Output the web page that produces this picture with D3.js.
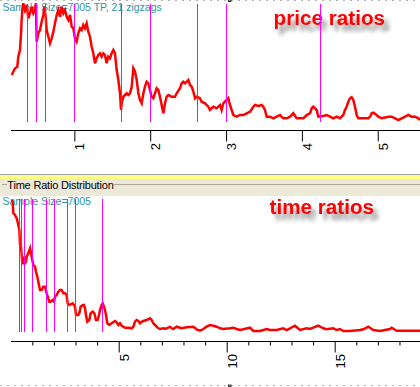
<!DOCTYPE html>
<html><head><meta charset="utf-8">
<script src="https://cdn.jsdelivr.net/npm/d3@7"></script>
<style>html,body{margin:0;padding:0;background:#fff;overflow:hidden}</style>
</head><body>
<svg id="c" width="420" height="387"></svg>
<script>
// ---- data ----
const priceX = [
0.174,0.218,0.248,0.261,0.283,0.297,0.305,0.314,0.327,0.349,
0.371,0.393,0.415,0.437,0.459,0.481,0.494,0.503,0.525,0.547,
0.569,0.591,0.604,0.622,0.635,0.657,0.679,0.701,0.723,0.745,
0.767,0.789,0.811,0.833,0.855,0.877,0.899,0.921,0.943,0.965,
0.987,1.008,1.030,1.052,1.075,1.097,1.118,1.140,1.162,1.184,
1.206,1.228,1.250,1.272,1.294,1.316,1.338,1.360,1.382,1.404,
1.426,1.448,1.470,1.492,1.514,1.536,1.558,1.580,1.602,1.615,
1.624,1.646,1.668,1.690,1.712,1.734,1.756,1.778,1.800,1.822,
1.844,1.866,1.888,1.910,1.931,1.953,1.975,1.997,2.019,2.041,
2.063,2.085,2.107,2.129,2.151,2.173,2.195,2.217,2.239,2.283,
2.327,2.349,2.393,2.415,2.437,2.459,2.503,2.525,2.547,2.569,
2.591,2.613,2.656,2.678,2.722,2.766,2.788,
2.832,2.876,2.920,2.942,2.964,3.008,3.030,3.052,3.074,3.096,
3.140,3.184,3.228,3.272,3.316,3.360,3.382,3.426,3.470,3.491,
3.513,3.535,3.579,3.623,3.667,3.711,3.755,3.799,3.843,3.887,
3.931,4.019,4.063,4.107,4.129,4.151,4.173,4.195,4.217,4.283,
4.327,4.371,4.414,4.458,4.502,4.546,4.568,4.590,4.612,4.634,
4.656,4.678,4.700,4.722,4.744,4.876,4.898,4.920,4.942,4.986,
5.008,5.052,5.140,5.184,5.228,5.272,5.315,5.359,5.403,5.447,
5.491,5.535,5.557];
const priceY = [
47,53.7,55.3,65.3,72,88.7,102,112,118.7,112,
117,103.7,108.7,115.3,108.7,112,118.7,80.3,88.7,92,
100.3,107,115.3,105.3,92,85.3,78.7,83.7,90.3,98.7,
107,112,105.3,115.3,108.7,112,105.3,102,107,95.3,
93.7,83.7,80.3,88.7,93.7,92,97,93.7,98.7,90.3,
85.3,75.3,68.7,58.7,63.7,67,68.7,65.3,68.7,67,
58.7,65.3,63.7,68.7,72,68.7,52,42,28.7,12,
18.7,25.3,27,28.7,27,28.7,35.3,53.7,50.3,42,
28.7,22,18.7,28.7,35.3,40.3,38.7,32,25.3,23.7,
28.7,33.7,32,25.3,17,8.7,18.7,25.3,27,25.3,
25.3,28.7,33.7,38.7,40.3,38.7,42,37,35.3,30.3,
23.7,25.3,23.7,20.3,18.7,15.3,12,
15.3,13.7,17,12,18.7,22,23.7,17,12,7,
5.3,7,7,8.7,10.3,15.3,17,16,17,15.3,
12,5.3,5.3,3.7,5.3,7,3.7,3.7,5.3,8.7,
3.7,3.7,7,8.7,13.7,15.3,13.7,12,5.3,6,
7,5.3,3.7,5.3,3.7,7,12,15.3,20.3,23.7,
24.7,22,15.3,7,3.7,3.7,5.3,8.7,9.3,7,
5.3,3.7,5.3,5.3,3.7,2,3.7,5.3,7,5.3,
5.3,3.7,2];
const timeX = [
0.045,0.091,0.122,0.199,0.276,0.353,0.400,0.431,0.477,0.508,
0.539,0.585,0.631,0.662,0.708,0.739,0.816,0.894,0.940,0.971,
1.048,1.125,1.171,1.233,1.279,1.325,1.356,1.434,1.511,1.588,
1.665,1.742,1.789,1.850,1.943,2.005,2.051,2.128,2.205,2.282,
2.360,2.437,2.514,2.591,2.637,2.714,2.869,2.931,2.977,3.023,
3.131,3.177,3.239,3.331,3.394,3.440,3.486,3.548,3.640,3.702,
3.795,3.872,3.949,4.026,4.088,4.134,4.211,4.258,4.319,4.366,
4.412,4.474,4.566,4.674,4.829,4.906,4.983,5.060,5.137,5.292,
5.446,5.600,5.677,5.755,5.832,5.909,5.986,6.063,6.140,6.295,
6.449,6.526,6.603,6.681,6.758,6.835,6.912,7.066,7.144,7.298,
7.375,7.452,7.529,7.684,7.838,7.915,8.147,8.455,8.610,8.764,
8.918,9.073,9.227,9.381,9.535,9.690,9.844,10.153,10.307,10.461,
10.616,10.770,11.079,11.233,11.542,11.850,12.005,12.313,12.622,12.776,
12.931,13.162,13.394,13.702,13.856,14.242,14.474,14.628,14.937,15.091,
15.245,15.400,15.708,16.171,16.325,16.557,16.788,17.097,17.560,17.637,
17.869,18.949];
const timeY = [
132,130.3,118.7,117,113.7,107,102,87,85.3,77,
68.7,68.7,75.3,68.7,70.3,75.3,78.7,83.7,78.7,75.3,
67,65.3,60.3,55.3,50.3,45.3,42,42,45.3,45.3,
38.7,33.7,30.3,30.3,32,30.3,35.3,37,40.3,42,
42,38.7,38.7,37,28.7,27,28.7,27,25.3,17,
17,18.7,25.3,27,27,23.7,17,10.3,12,18.7,
20.3,18.7,12,12,17,22,27,28.7,25.3,22,
17,8.7,7,8.7,11,9.7,7,8.7,6.3,4.3,
4.3,3.7,5.3,10.3,12,11,8.7,10.3,11,12,
13.7,12,8.7,7,5.3,3.7,3,3.7,3,4.3,
5.3,3.7,3,5.3,4.3,3.7,4.7,5.3,2.7,1.3,
3,5.3,7,6.3,5.3,3.7,3,3.7,4.3,3,
2,2.7,4.3,1,1,3,2,2,3.7,2,
3.7,6.3,2,3.7,3,6.3,3.7,2.7,3.7,2,
3,1,1,2,2.7,5.3,2,1,3,4.3,
1.3,1.3];
const fibRatios = [0.382,0.5,0.618,1,1.618,2,2.618,3,4.236];
const priceTicks = [1,2,3,4,5];
const timeMajorTicks = [5,10,15];
const timeMinorTicks = [1,2,3,4,6,7,8,9,11,12,13,14,16,17,18];
const priceCaption = "Sample Size=7005 TP, 21 zigzags";
const timeCaption = "Sample Size=7005";
const groupTitle = "Time Ratio Distribution";
const priceTitle = "price ratios";
const timeTitle = "time ratios";

// ---- drawing ----
const svg = d3.select("#c");
const FONT = "'Liberation Sans', Arial, sans-serif";
const defs = svg.append("defs");
const f = defs.append("filter").attr("id","sh")
  .attr("x","-10%").attr("y","-40%").attr("width","130%").attr("height","200%");
f.append("feGaussianBlur").attr("in","SourceAlpha").attr("stdDeviation",2.2).attr("result","b");
f.append("feOffset").attr("in","b").attr("dx",5).attr("dy",6).attr("result","o");
f.append("feComponentTransfer").attr("in","o").attr("result","o2")
  .append("feFuncA").attr("type","linear").attr("slope",0.45);
const mg = f.append("feMerge");
mg.append("feMergeNode").attr("in","o2");
mg.append("feMergeNode").attr("in","SourceGraphic");

svg.append("rect").attr("width",420).attr("height",387).attr("fill","#fff");

// scales
const xP = d3.scaleLinear().domain([0, 5.557]).range([-1.5, 420]);
const yP = d3.scaleLinear().domain([0, 122]).range([122, 0]);
const xT = d3.scaleLinear().domain([0, 18.95]).range([10.7, 420]);
const yT = d3.scaleLinear().domain([0, 133]).range([332, 199]);

// borders (dotted)
[0.5, 385.5].forEach(y => {
  svg.append("line").attr("x1",0).attr("x2",420).attr("y1",y).attr("y2",y)
    .attr("stroke","#b4b4b4").attr("stroke-dasharray","2,5");
  svg.append("rect").attr("x",228.5).attr("y",y-0.5).attr("width",2.5).attr("height",1.5)
    .attr("fill","none").attr("stroke","#000").attr("stroke-width",0.8);
});

// separator band
svg.append("rect").attr("x",0).attr("y",174).attr("width",420).attr("height",1).attr("fill","#a0a0a0");
svg.append("rect").attr("x",0).attr("y",175).attr("width",420).attr("height",4).attr("fill","#ffff88");
svg.append("rect").attr("x",0).attr("y",179).attr("width",420).attr("height",17).attr("fill","#ece9d8");
svg.append("rect").attr("x",2).attr("y",184).attr("width",5).attr("height",1).attr("fill","#aca899");
svg.append("rect").attr("x",114).attr("y",184).attr("width",306).attr("height",1).attr("fill","#aca899");
svg.append("text").attr("x",7.3).attr("y",189).attr("font-family",FONT).attr("font-size","11px")
  .attr("letter-spacing","-0.2px").attr("fill","#000").text(groupTitle);

// captions
svg.append("text").attr("x",2.5).attr("y",10.5).attr("font-family",FONT).attr("font-size","10.5px")
  .attr("fill","#2a96aa").text(priceCaption);
svg.append("text").attr("x",2.5).attr("y",205.3).attr("font-family",FONT).attr("font-size","10.5px")
  .attr("fill","#2a96aa").text(timeCaption);

// titles
svg.append("text").attr("x",273.5).attr("y",25).attr("font-family",FONT).attr("font-size","20.7px")
  .attr("font-weight","bold").attr("fill","#ff0000").attr("filter","url(#sh)").text(priceTitle);
svg.append("text").attr("x",269.5).attr("y",213.5).attr("font-family",FONT).attr("font-size","20.7px")
  .attr("font-weight","bold").attr("fill","#ff0000").attr("filter","url(#sh)").text(timeTitle);

// curves
const priceData = priceX.map((x,i)=>[x, priceY[i]]);
const timeData = timeX.map((x,i)=>[x, timeY[i]]);
svg.append("path").datum(priceData)
  .attr("d", d3.line().x(d=>xP(d[0])).y(d=>yP(d[1])))
  .attr("fill","none").attr("stroke","#ff0000").attr("stroke-width",2.5).attr("stroke-linejoin","miter");
svg.append("path").datum(timeData)
  .attr("d", d3.line().x(d=>xT(d[0])).y(d=>yT(d[1])))
  .attr("fill","none").attr("stroke","#ff0000").attr("stroke-width",2.5).attr("stroke-linejoin","miter");

// fib lines
svg.append("g").selectAll("line").data(fibRatios).join("line")
  .attr("x1",d=>Math.round(xP(d))+0.5).attr("x2",d=>Math.round(xP(d))+0.5)
  .attr("y1",4).attr("y2",122).attr("stroke","#ff00ff").attr("stroke-width",1);
svg.append("g").selectAll("line").data(fibRatios).join("line")
  .attr("x1",d=>Math.round(xT(d))+0.5).attr("x2",d=>Math.round(xT(d))+0.5)
  .attr("y1",199).attr("y2",332).attr("stroke","#ff00ff").attr("stroke-width",1);

// axes
function styleLabels(g){
  g.select(".domain").remove();
  g.selectAll(".tick line").attr("stroke","#000");
  g.selectAll(".tick text").attr("x",0).attr("y",0).attr("dy","0.72em")
    .attr("text-anchor","end").attr("transform","translate(0,12.5) rotate(-90)")
    .attr("font-family",FONT).attr("font-size","13px").attr("fill","#000");
}
svg.append("line").attr("x1",11).attr("x2",420).attr("y1",130.5).attr("y2",130.5).attr("stroke","#000");
svg.append("g").attr("transform","translate(0,130.5)")
  .call(d3.axisBottom(xP).tickValues(priceTicks).tickSize(11).tickFormat(d3.format("d")))
  .call(styleLabels);

svg.append("line").attr("x1",11).attr("x2",420).attr("y1",341.5).attr("y2",341.5).attr("stroke","#000");
svg.append("g").attr("transform","translate(0,341.5)")
  .call(d3.axisBottom(xT).tickValues(timeMinorTicks).tickSize(4).tickFormat(""))
  .call(g=>{g.select(".domain").remove(); g.selectAll(".tick line").attr("stroke","#000");});
svg.append("g").attr("transform","translate(0,341.5)")
  .call(d3.axisBottom(xT).tickValues(timeMajorTicks).tickSize(11).tickFormat(d3.format("d")))
  .call(styleLabels);
</script>
</body></html>
